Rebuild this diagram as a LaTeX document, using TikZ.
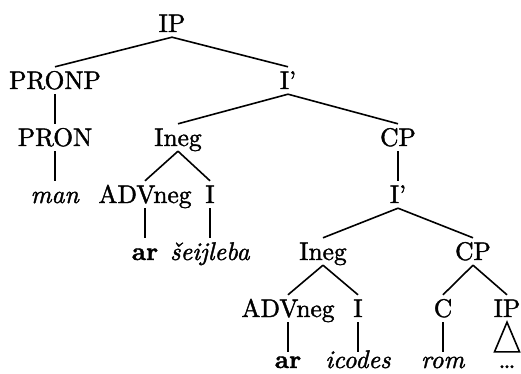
\documentclass[tikz,border=0pt]{standalone}
\usepackage{fontspec}
\setmainfont{lmroman10-regular.otf}[BoldFont=lmroman10-bold.otf,ItalicFont=lmroman10-italic.otf,FakeBold=1.5]
\begin{document}
\begin{tikzpicture}[x=1pt,y=1pt,yscale=-1,xscale=1]
\tikzset{cat/.style={anchor=base,inner xsep=1pt,inner ysep=5pt,text height=17pt,text depth=0pt,font=\fontsize{25.5}{30}\selectfont},
  leaf/.style={cat,inner ysep=1pt,text height=15pt},
  branch/.style={line width=1.6pt}}
\useasboundingbox (0,0) rectangle (521,374);

% Text Node
\node[cat] (ip) at (172,32) {IP};
\node[cat] (pronp) at (55,89) {PRONP};
\node[cat] (ibar) at (288,89) {I'};
\node[cat] (pron) at (55,146) {PRON};
\node[cat] (ineg) at (178,146) {Ineg};
\node[cat] (cp) at (398,146) {CP};
\node[cat] (man) at (55,203) {\textit{man}};
\node[cat] (advneg) at (145,203) {ADVneg};
\node[cat] (infl) at (210,203) {I};
\node[cat] (ibarb) at (398,203) {I'};
\node[cat] (ar) at (145,260) {\textbf{ar}};
\node[cat] (verb) at (210,260) {\textit{šeijleba}};
\node[cat] (inegb) at (323,260) {Ineg};
\node[cat] (cpb) at (473,260) {CP};
\node[cat] (advnegb) at (288,317) {ADVneg};
\node[cat] (inflb) at (358,317) {I};
\node[cat] (comp) at (443,317) {C};
\node[cat] (ipb) at (507,317) {IP};
\node[leaf] (arb) at (288,368) {\textbf{ar}};
\node[leaf] (icodes) at (358,368) {\textit{icodes}};
\node[leaf] (rom) at (443,368) {\textit{rom}};
\node[leaf] (dots) at (507,368) {\dots};

%Straight Lines
\draw[branch] (ip.south) -- (pronp.north);
\draw[branch] (ip.south) -- (ibar.north);
\draw[branch] (pronp.south) -- (pron.north);
\draw[branch] (pron.south) -- (man.north);
\draw[branch] (ibar.south) -- (ineg.north);
\draw[branch] (ibar.south) -- (cp.north);
\draw[branch] (ineg.south) -- (advneg.north);
\draw[branch] (ineg.south) -- (infl.north);
\draw[branch] (advneg.south) -- (ar.north);
\draw[branch] (infl.south) -- (verb.north);
\draw[branch] (cp.south) -- (ibarb.north);
\draw[branch] (ibarb.south) -- (inegb.north);
\draw[branch] (ibarb.south) -- (cpb.north);
\draw[branch] (inegb.south) -- (advnegb.north);
\draw[branch] (inegb.south) -- (inflb.north);
\draw[branch] (advnegb.south) -- (arb.north);
\draw[branch] (inflb.south) -- (icodes.north);
\draw[branch] (cpb.south) -- (comp.north);
\draw[branch] (cpb.south) -- (ipb.north);
\draw[branch] (comp.south) -- (rom.north);
%Shape: Triangle
\draw[branch] (ipb.south) -- ([xshift=-12.5pt]dots.north) -- ([xshift=12.5pt]dots.north) -- cycle;

\end{tikzpicture}
\end{document}
